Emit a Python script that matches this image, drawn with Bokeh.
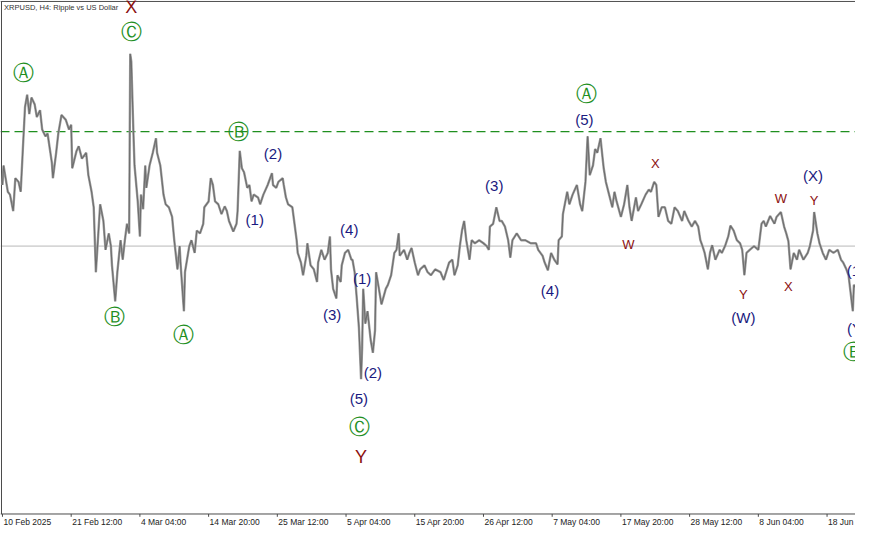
from bokeh.plotting import figure
from bokeh.models import Range1d
from bokeh.core.properties import value
from bokeh.embed import file_html
from bokeh.resources import INLINE

# ---- price path (4h bar index, price in USD) ----
bars = [0, 1, 5, 7, 10, 12, 15, 17, 19, 21, 23, 25, 27, 30, 32, 35, 37, 40, 42, 46,
        47, 50, 52, 55, 59, 62, 64, 65, 69, 71, 74, 78, 80, 83, 85, 87, 90, 91, 94, 96,
        99, 101, 102, 105, 107, 110, 112, 114, 116, 118, 119, 120, 121, 122, 123, 126, 128, 129, 131, 133,
        134, 137, 140, 143, 144, 147, 150, 152, 155, 158, 160, 163, 165, 166, 169, 170, 174, 176, 179, 181,
        184, 187, 188, 192, 194, 196, 198, 201, 204, 207, 209, 211, 215, 218, 219, 221, 223, 225, 228, 230,
        232, 234, 238, 240, 243, 247, 251, 252, 255, 257, 261, 262, 264, 266, 270, 272, 274, 275, 278, 280,
        283, 284, 287, 290, 293, 294, 297, 300, 303, 305, 306, 308, 311, 312, 315, 316, 319, 322, 325, 326,
        328, 330, 332, 334, 335, 336, 338, 340, 343, 345, 347, 348, 350, 353, 357, 359, 362, 365, 367, 369,
        370, 374, 377, 379, 381, 384, 387, 389, 393, 396, 399, 403, 408, 411, 416, 419, 421, 424, 426, 428,
        430, 432, 435, 437, 440, 444, 448, 451, 453, 454, 457, 460, 463, 465, 468, 471, 473, 475, 479, 483,
        487, 492, 497, 499, 503, 505, 508, 511, 514, 517, 518, 521, 522, 526, 528, 531, 535, 538, 540, 543,
        545, 547, 550, 552, 554, 557, 559, 560, 562, 565, 568, 570, 572, 576, 579, 582, 584, 586, 590, 592,
        595, 599, 602, 604, 607, 609, 611, 614, 617, 620, 623, 626, 629, 633, 635, 639, 642, 645, 648, 650,
        652, 654, 657, 659, 661, 664, 668, 670, 673, 676, 678, 681, 684, 687, 689, 691, 693, 696, 700, 704,
        707, 709, 711, 715, 719, 721, 725, 728, 730, 732, 734, 737, 740, 742, 746, 750, 752, 755, 756, 759,
        761, 764, 767, 770, 774, 778, 781, 783, 786, 788, 792, 793, 795]
prices = [2.445, 2.528, 2.416, 2.404, 2.334, 2.474, 2.458, 2.416, 2.598, 2.776, 2.829, 2.747, 2.817, 2.788, 2.734, 2.763, 2.681, 2.652, 2.664, 2.540,
          2.474, 2.582, 2.664, 2.743, 2.722, 2.681, 2.701, 2.516, 2.590, 2.610, 2.557, 2.582, 2.487, 2.416, 2.350, 2.074, 2.292, 2.363, 2.292, 2.169,
          2.239, 2.185, 2.103, 1.950, 2.074, 2.210, 2.127, 2.210, 2.280, 2.239, 3.003, 2.970, 2.817, 2.664, 2.528, 2.375, 2.226, 2.404, 2.342, 2.528,
          2.433, 2.528, 2.582, 2.644, 2.582, 2.528, 2.404, 2.363, 2.350, 2.309, 2.210, 2.086, 2.185, 2.103, 1.908, 2.074, 2.185, 2.210, 2.156, 2.251,
          2.239, 2.280, 2.350, 2.375, 2.474, 2.445, 2.375, 2.363, 2.321, 2.354, 2.334, 2.292, 2.247, 2.280, 2.334, 2.590, 2.516, 2.499, 2.433, 2.445,
          2.375, 2.404, 2.392, 2.363, 2.404, 2.445, 2.495, 2.445, 2.433, 2.458, 2.474, 2.445, 2.392, 2.363, 2.350, 2.280, 2.210, 2.156, 2.115, 2.061,
          2.144, 2.197, 2.103, 2.086, 2.032, 2.115, 2.169, 2.127, 2.156, 2.226, 2.086, 2.003, 1.962, 2.061, 2.032, 2.103, 2.156, 2.169, 2.127, 2.127,
          2.074, 1.962, 1.838, 1.619, 1.756, 2.003, 1.855, 1.908, 1.784, 1.731, 1.826, 2.074, 2.020, 1.937, 2.003, 2.020, 2.061, 2.156, 2.169, 2.239,
          2.144, 2.169, 2.127, 2.156, 2.177, 2.115, 2.061, 2.086, 2.103, 2.074, 2.061, 2.086, 2.074, 2.041, 2.115, 2.127, 2.061, 2.103, 2.185, 2.251,
          2.292, 2.210, 2.127, 2.210, 2.197, 2.210, 2.197, 2.185, 2.169, 2.268, 2.280, 2.350, 2.292, 2.292, 2.268, 2.210, 2.136, 2.210, 2.239, 2.210,
          2.210, 2.197, 2.197, 2.169, 2.144, 2.115, 2.082, 2.156, 2.127, 2.107, 2.210, 2.226, 2.321, 2.416, 2.363, 2.404, 2.445, 2.363, 2.334, 2.458,
          2.652, 2.487, 2.528, 2.598, 2.582, 2.644, 2.557, 2.516, 2.458, 2.404, 2.350, 2.416, 2.375, 2.309, 2.363, 2.445, 2.350, 2.292, 2.392, 2.334,
          2.363, 2.404, 2.425, 2.416, 2.458, 2.445, 2.309, 2.350, 2.350, 2.292, 2.280, 2.350, 2.334, 2.292, 2.334, 2.292, 2.268, 2.292, 2.268, 2.210,
          2.185, 2.156, 2.086, 2.156, 2.189, 2.127, 2.169, 2.156, 2.185, 2.226, 2.272, 2.251, 2.210, 2.197, 2.169, 2.061, 2.156, 2.169, 2.185, 2.169,
          2.280, 2.292, 2.268, 2.313, 2.280, 2.309, 2.330, 2.268, 2.239, 2.206, 2.086, 2.156, 2.127, 2.169, 2.127, 2.156, 2.185, 2.251, 2.330, 2.239,
          2.197, 2.156, 2.127, 2.169, 2.156, 2.169, 2.127, 2.115, 2.086, 2.061, 1.908, 2.020, 2.003]

# ---- time axis ----
tick_bars = [0, 64, 128, 192, 256, 320, 384, 448, 512, 576, 640, 704, 768]
tick_labels = ["10 Feb 2025", "21 Feb 12:00", "4 Mar 04:00", "14 Mar 20:00", "25 Mar 12:00",
               "5 Apr 04:00", "15 Apr 20:00", "26 Apr 12:00", "7 May 04:00", "17 May 20:00",
               "28 May 12:00", "8 Jun 04:00", "18 Jun 20:00"]

# ---- chart window (bars / price) ----
x_lo, x_hi = -1.83, 794.5
y_lo, y_hi = 0.979, 3.23
frame_left = -0.9
frame_top = 3.226
axis_price = 1.045
tick_end_price = 1.033
tick_label_price = 1.013

# ---- levels ----
bid_level = 2.185
target_level = 2.672

# ---- wave labels ----
circ_text = ["Ⓐ", "Ⓒ", "Ⓑ", "Ⓑ", "Ⓐ", "Ⓒ", "Ⓐ", "Ⓑ"]
circ_bar = [20, 120, 220, 104, 169, 333, 544, 793]
circ_price = [2.920, 3.094, 2.672, 1.884, 1.805, 1.417, 2.834, 1.735]

paren_text = ["(2)", "(1)", "(4)", "(3)", "(1)", "(2)", "(5)", "(3)", "(4)", "(5)", "(W)", "(X)", "(1)", "(Y)"]
paren_bar = [252, 235, 323, 307, 335, 345, 332, 458, 510, 542, 690, 755, 795, 796]
paren_price = [2.577, 2.297, 2.255, 1.892, 2.049, 1.648, 1.537, 2.441, 1.995, 2.722, 1.879, 2.487, 2.082, 1.834]

minor_text = ["X", "W", "Y", "W", "X", "Y"]
minor_bar = [608, 583, 690, 725, 732, 756]
minor_price = [2.536, 2.193, 1.979, 2.387, 2.012, 2.379]

major_text = ["X", "Y"]
major_bar = [120, 334]
major_price = [3.201, 1.289]

title_text = "XRPUSD, H4:  Ripple vs US Dollar"
title_bar, title_price = 1.5, 3.201

wave_green = "#1f8f1f"

p = figure(width=855, height=529, output_backend="svg", toolbar_location=None,
           x_range=Range1d(x_lo, x_hi), y_range=Range1d(y_lo, y_hi),
           min_border=0, background_fill_color="white", border_fill_color="white")
p.outline_line_color = None
p.grid.visible = False
p.xaxis.visible = False
p.yaxis.visible = False

frame_color = "#4a4a4a"

# bid level and dashed target level
p.line([x_lo, x_hi], [bid_level, bid_level], line_color="#b8b8b8", line_width=1)
p.line([x_lo, x_hi], [target_level, target_level], line_color=wave_green,
       line_width=1.2, line_dash="9 5")

# frame: top, left and bottom (time axis line)
p.line([x_lo, x_hi], [frame_top, frame_top], line_color=frame_color, line_width=1)
p.line([frame_left, frame_left], [axis_price, frame_top], line_color=frame_color, line_width=1)
p.line([x_lo, x_hi], [axis_price, axis_price], line_color=frame_color, line_width=1)
# time ticks
p.multi_line([[b, b] for b in tick_bars], [[axis_price, tick_end_price]] * len(tick_bars),
             line_color=frame_color, line_width=1)
p.text(tick_bars, [tick_label_price] * len(tick_bars), text=tick_labels,
       text_font=value("Liberation Sans"), text_font_size="8.5px", text_color="#222222",
       text_align="left", text_baseline="middle", x_offset=1)

# price path
p.line(bars, prices, line_color="#a0a0a0", line_width=2.4)
p.line(bars, prices, line_color="#6e6e6e", line_width=1.1)

# labels
p.text([title_bar], [title_price], text=[title_text], text_font=value("Liberation Sans"),
       text_font_size="7.5px", text_color="#333333", text_align="left", text_baseline="middle")
p.text(paren_bar, paren_price, text=paren_text, text_font=value("Liberation Sans"),
       text_font_size="15px", text_color="#1a1a80", text_align="center", text_baseline="middle")
p.text(minor_bar, minor_price, text=minor_text, text_font=value("Liberation Sans"),
       text_font_size="13px", text_color="#8b1010", text_align="center", text_baseline="middle")
p.text(major_bar, major_price, text=major_text, text_font=value("Liberation Sans"),
       text_font_size="18px", text_color="#8b1010", text_align="center", text_baseline="middle")
p.text(circ_bar, circ_price, text=circ_text, text_font=value("DejaVu Sans"),
       text_font_size="21px", text_color=wave_green, text_align="center", text_baseline="middle")

open("out.html", "w").write(file_html(p, INLINE))
